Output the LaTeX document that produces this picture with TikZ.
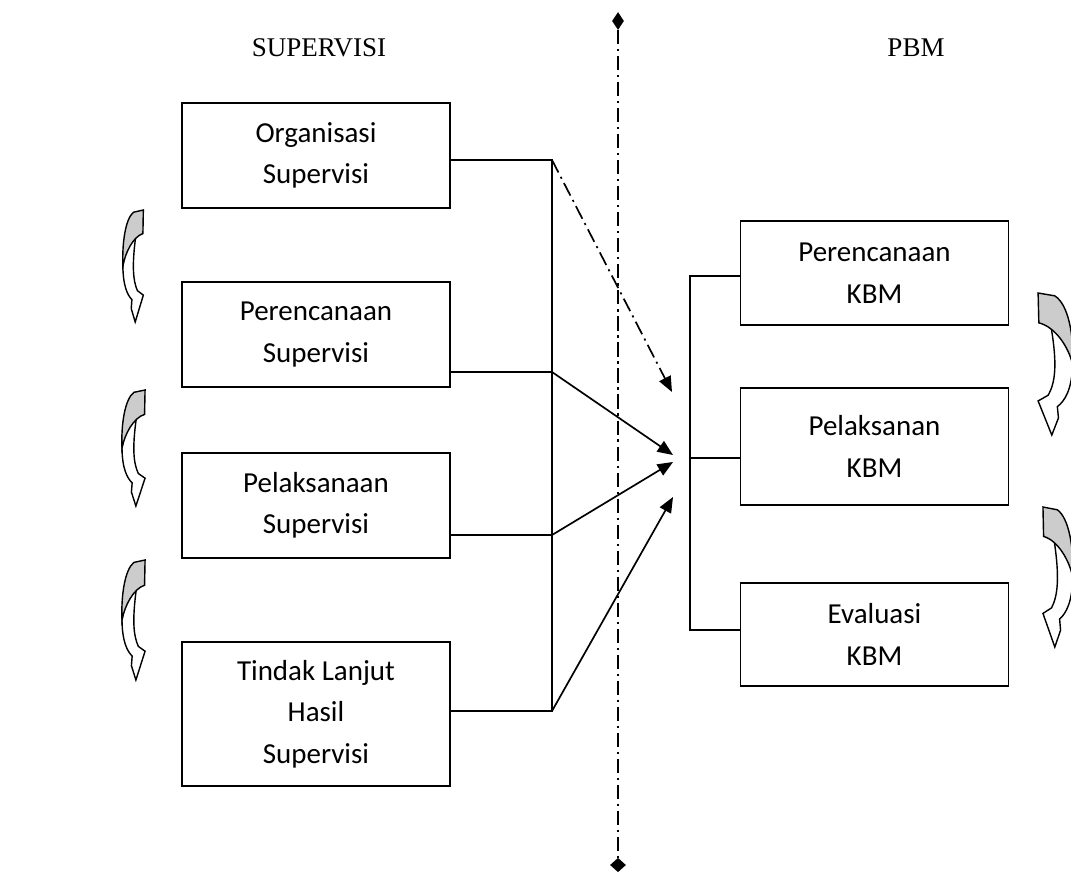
\documentclass[tikz,border=0pt]{standalone}
\usepackage{fontspec}
\setmainfont{Carlito}
\newfontfamily\headfont{Liberation Serif}
\usetikzlibrary{arrows.meta,shapes.geometric,positioning}

\tikzset{
  curly/.pic={
    \draw[line width=1pt,fill=white] (0.04,0.5) .. controls (0.05,0.68) and (0.25,0.76) .. (0.45,0.8)
      -- (0.42,0.88) -- (0.6,1) -- (0.97,0.76) -- (0.7,0.72)
      .. controls (0.5,0.63) and (0.45,0.5) .. (0.62,0.24) -- (0.2,0.3) -- cycle;
    \draw[line width=1pt,fill=gray!40] (0.52,0.02) -- (0.97,0) -- (0.95,0.21)
      .. controls (0.5,0.24) and (0.15,0.38) .. (0.04,0.5)
      .. controls (0,0.3) and (0.15,0.08) .. (0.52,0.02) -- cycle;
  }
}

\begin{document}
\begin{tikzpicture}[x=0.025cm,y=-0.025cm,
  box/.style={draw,line width=0.9pt,minimum width=6.7cm,inner sep=0pt,align=center,font=\fontsize{20.6}{29.5}\selectfont},
  head/.style={inner sep=0pt,font=\headfont\fontsize{19.2}{22}\selectfont},
  link/.style={line width=0.9pt},
  dashdot/.style={line width=1.2pt,dash pattern=on 10pt off 3.5pt on 1.5pt off 3.5pt},
  tip/.style={line width=1.2pt,-{Triangle[length=11pt,width=9pt]}},
  endmark/.style={shape=diamond,fill=black,inner sep=0pt}]
  \useasboundingbox (0,0) rectangle (1071,879);

  \node[head] (SupHead) at (319,47.5) {SUPERVISI};
  \node[head] (PbmHead) at (916,47.5) {PBM};

  \node[endmark,minimum width=0.3cm,minimum height=0.45cm] (TopEnd) at (618,21) {};
  \node[endmark,minimum width=0.4cm,minimum height=0.36cm] (BotEnd) at (618,865) {};
  \draw[dashdot] (TopEnd) -- (BotEnd);

  \node[box,minimum height=2.625cm] (OrgSup) at (316,155.5) {Organisasi\\Supervisi};
  \node[box,minimum height=2.625cm] (RenSup) at (316,334.5) {Perencanaan\\Supervisi};
  \node[box,minimum height=2.625cm] (PelSup) at (316,505.5) {Pelaksanaan\\Supervisi};
  \node[box,minimum height=3.6cm]   (TinSup) at (316,714)   {Tindak Lanjut\\Hasil\\Supervisi};

  \node[box,minimum height=2.6cm]   (RenKbm) at (874.5,273)   {Perencanaan\\KBM};
  \node[box,minimum height=2.925cm] (PelKbm) at (874.5,446.5) {Pelaksanan\\KBM};
  \node[box,minimum height=2.575cm] (EvaKbm) at (874.5,634.5) {Evaluasi\\KBM};

  \coordinate (BusTop) at (552,160);
  \coordinate (BusB)   at (552,372);
  \coordinate (BusC)   at (552,535);
  \coordinate (BusD)   at (552,711);
  \coordinate (TipA)   at (672,392);
  \coordinate (TipB)   at (673,455);
  \coordinate (TipC)   at (673,462);
  \coordinate (TipD)   at (673,497);
  \coordinate (RBusA)  at (690,276);
  \coordinate (RBusB)  at (690,458);
  \coordinate (RBusC)  at (690,630);

  \draw[link] (BusTop -| OrgSup.east) -- (BusTop) -- (BusD) -- (BusD -| TinSup.east);
  \draw[link] (BusB -| RenSup.east) -- (BusB);
  \draw[link] (BusC -| PelSup.east) -- (BusC);
  \draw[link] (RBusA -| RenKbm.west) -- (RBusA) -- (RBusC) -- (RBusC -| EvaKbm.west);
  \draw[link] (RBusB) -- (RBusB -| PelKbm.west);

  \draw[tip,dashdot] (BusTop) -- (TipA);
  \draw[tip] (BusB) -- (TipB);
  \draw[tip] (BusC) -- (TipC);
  \draw[tip] (BusD) -- (TipD);

  \begin{scope}[shift={(122,210)},x=0.55cm,y=-2.8cm] \pic {curly}; \end{scope}
  \begin{scope}[shift={(121,390)},x=0.62cm,y=-2.9cm] \pic {curly}; \end{scope}
  \begin{scope}[shift={(121,560)},x=0.62cm,y=-3cm] \pic {curly}; \end{scope}
  \begin{scope}[shift={(1074,293)},x=-0.925cm,y=-3.55cm] \pic {curly}; \end{scope}
  \begin{scope}[shift={(1074,507)},x=-0.8cm,y=-3.5cm] \pic {curly}; \end{scope}
\end{tikzpicture}
\end{document}
